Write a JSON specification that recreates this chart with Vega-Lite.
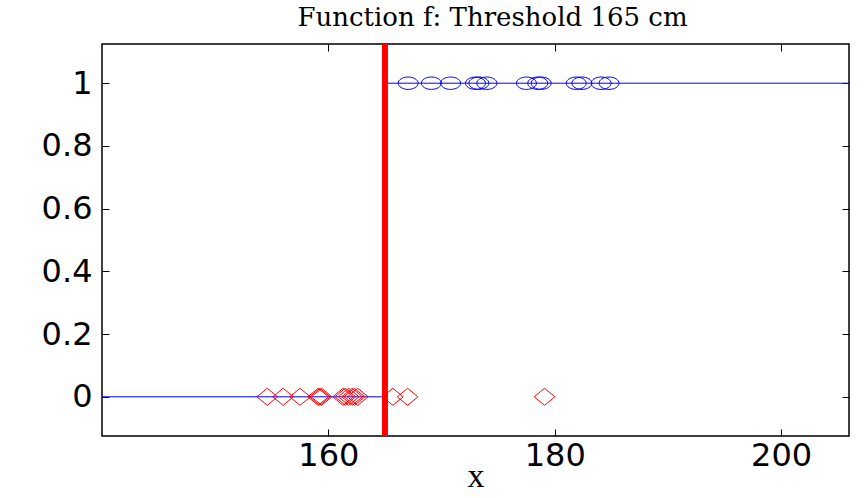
{
  "$schema": "https://vega.github.io/schema/vega-lite/v6.json",
  "width": 747,
  "height": 392,
  "autosize": "none",
  "padding": {"left": 102, "top": 44, "right": 16, "bottom": 62},
  "background": "white",
  "config": {
    "view": {"stroke": "black", "strokeWidth": 1.5},
    "axis": {
      "grid": false, "domain": false, "ticks": true, "tickColor": "black",
      "tickSize": -7, "tickWidth": 1,
      "labelFont": "DejaVu Sans", "labelFontSize": 32, "labelColor": "black"
    }
  },
  "title": {
    "text": "Function f: Threshold 165 cm",
    "font": "DejaVu Serif", "fontSize": 26, "fontWeight": "normal",
    "color": "black", "offset": 10, "dx": 17
  },
  "datasets": {
    "step": [
      {"x": 140, "y": 0, "o": 1},
      {"x": 165, "y": 0, "o": 2},
      {"x": 165, "y": 1, "o": 3},
      {"x": 206, "y": 1, "o": 4}
    ],
    "tall": [
      {"x": 167.05, "y": 1}, {"x": 169.1, "y": 1}, {"x": 170.8, "y": 1},
      {"x": 173.0, "y": 1}, {"x": 173.3, "y": 1}, {"x": 174.0, "y": 1},
      {"x": 177.5, "y": 1}, {"x": 178.5, "y": 1}, {"x": 178.8, "y": 1},
      {"x": 181.9, "y": 1}, {"x": 182.4, "y": 1}, {"x": 184.1, "y": 1},
      {"x": 184.8, "y": 1}
    ],
    "short": [
      {"x": 154.6, "y": 0}, {"x": 156.0, "y": 0}, {"x": 157.5, "y": 0},
      {"x": 159.1, "y": 0}, {"x": 159.25, "y": 0}, {"x": 159.4, "y": 0},
      {"x": 161.3, "y": 0}, {"x": 161.5, "y": 0}, {"x": 161.8, "y": 0},
      {"x": 162.1, "y": 0}, {"x": 162.3, "y": 0}, {"x": 162.6, "y": 0},
      {"x": 165.7, "y": 0}, {"x": 167.0, "y": 0}, {"x": 179.1, "y": 0}
    ],
    "thr": [{"x": 165}]
  },
  "layer": [
    {
      "data": {"name": "step"},
      "mark": {"type": "line", "color": "#0000ff", "strokeWidth": 1, "clip": true},
      "encoding": {
        "x": {"field": "x", "type": "quantitative",
              "scale": {"domain": [140, 206], "nice": false, "zero": false},
              "axis": {"values": [160, 180, 200], "orient": "bottom", "title": "x",
                       "titleFont": "Liberation Serif", "titleFontSize": 34, "titleFontWeight": "normal",
                       "titleColor": "black", "titlePadding": -12, "labelPadding": 11}},
        "y": {"field": "y", "type": "quantitative",
              "scale": {"domain": [-0.125, 1.125], "nice": false, "zero": false},
              "axis": {"values": [0, 0.2, 0.4, 0.6, 0.8, 1], "format": "~g", "title": null, "labelPadding": 17}},
        "order": {"field": "o"}
      }
    },
    {
      "data": {"name": "tall"},
      "mark": {"type": "point", "shape": "M-1,0A1,0.62 0 1,0 1,0A1,0.62 0 1,0 -1,0Z",
               "filled": false, "stroke": "#0000ff", "strokeWidth": 1, "size": 400, "opacity": 1},
      "encoding": {
        "x": {"field": "x", "type": "quantitative", "scale": {"domain": [140, 206], "nice": false, "zero": false}, "axis": null},
        "y": {"field": "y", "type": "quantitative", "scale": {"domain": [-0.125, 1.125], "nice": false, "zero": false}, "axis": null}
      }
    },
    {
      "data": {"name": "short"},
      "mark": {"type": "point", "shape": "M-1,0L0,-0.82L1,0L0,0.82Z",
               "filled": false, "stroke": "#ff0000", "strokeWidth": 1, "size": 430, "opacity": 1},
      "encoding": {
        "x": {"field": "x", "type": "quantitative", "scale": {"domain": [140, 206], "nice": false, "zero": false}, "axis": null},
        "y": {"field": "y", "type": "quantitative", "scale": {"domain": [-0.125, 1.125], "nice": false, "zero": false}, "axis": null}
      }
    },
    {
      "data": {"name": "thr"},
      "mark": {"type": "rule", "color": "#ff0000", "strokeWidth": 6},
      "encoding": {
        "x": {"field": "x", "type": "quantitative", "scale": {"domain": [140, 206], "nice": false, "zero": false}, "axis": null}
      }
    },
    {
      "data": {"name": "step"},
      "mark": {"type": "point", "opacity": 0},
      "encoding": {
        "x": {"field": "x", "type": "quantitative", "scale": {"domain": [140, 206], "nice": false, "zero": false},
              "axis": {"orient": "top", "values": [160, 180, 200], "labels": false, "title": null}},
        "y": {"field": "y", "type": "quantitative", "scale": {"domain": [-0.125, 1.125], "nice": false, "zero": false},
              "axis": {"orient": "right", "values": [0, 0.2, 0.4, 0.6, 0.8, 1], "labels": false, "title": null}}
      }
    }
  ],
  "resolve": {"axis": {"x": "independent", "y": "independent"}}
}
